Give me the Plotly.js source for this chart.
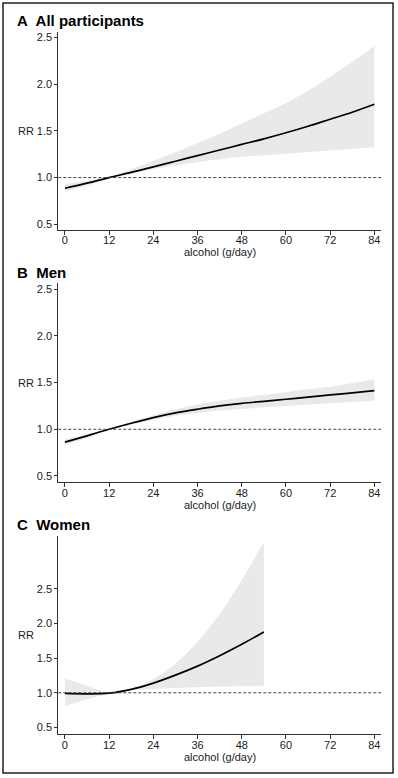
<!DOCTYPE html>
<html>
<head>
<meta charset="utf-8">
<script src="https://cdn.plot.ly/plotly-3.0.1.min.js"></script>
<style>
  html, body { margin: 0; padding: 0; background: #fff; }
  #chart { width: 398px; height: 778px; }
</style>
</head>
<body>
<div id="chart"></div>
<script>
// ---------- Data ----------
const xTicks = [0, 12, 24, 36, 48, 60, 72, 84];
const xFull = [0, 6, 12, 18, 24, 30, 36, 42, 48, 54, 60, 66, 72, 78, 84];
const xWomen = [0, 6, 12, 18, 24, 30, 36, 42, 48, 54];

// A: All participants
const allRR    = [0.885, 0.94, 1.0, 1.055, 1.115, 1.175, 1.235, 1.295, 1.355, 1.415, 1.48, 1.55, 1.625, 1.70, 1.785];
const allUpper = [0.93, 0.965, 1.01, 1.09, 1.18, 1.27, 1.37, 1.47, 1.58, 1.69, 1.80, 1.93, 2.08, 2.24, 2.41];
const allLower = [0.845, 0.915, 0.99, 1.04, 1.09, 1.13, 1.165, 1.195, 1.22, 1.24, 1.255, 1.275, 1.29, 1.31, 1.326];

// B: Men
const menRR    = [0.862, 0.93, 1.0, 1.065, 1.125, 1.175, 1.215, 1.25, 1.278, 1.30, 1.322, 1.345, 1.368, 1.39, 1.415];
const menUpper = [0.895, 0.945, 1.005, 1.08, 1.15, 1.215, 1.265, 1.305, 1.34, 1.37, 1.40, 1.428, 1.455, 1.495, 1.535];
const menLower = [0.83, 0.91, 0.995, 1.05, 1.10, 1.145, 1.175, 1.20, 1.218, 1.235, 1.25, 1.265, 1.28, 1.294, 1.307];

// C: Women
const womenRR    = [0.99, 0.985, 0.995, 1.05, 1.14, 1.255, 1.385, 1.535, 1.70, 1.88];
const womenUpper = [1.21, 1.10, 1.005, 1.06, 1.20, 1.42, 1.74, 2.14, 2.63, 3.18];
const womenLower = [0.81, 0.905, 0.985, 1.035, 1.055, 1.07, 1.08, 1.09, 1.095, 1.10];

const yTicks = [0.5, 1.0, 1.5, 2.0, 2.5];
const yTickText = ['0.5', '1.0', '1.5', '2.0', '2.5'];
const reference = 1.0;

const panelTitles = ['A\u00a0 All participants', 'B\u00a0 Men', 'C\u00a0 Women'];
const xTitle = 'alcohol (g/day)';
const yTitle = 'RR';

// ---------- Layout helpers ----------
const W = 398, H = 778;
const px = v => v / W;
const py = v => 1 - v / H;

const FONT = 'Liberation Sans, Arial, Helvetica, sans-serif';
const TXT = '#1a1a1a';
const AX = '#333333';
const BAND = 'rgb(233,233,233)';

const xDom = [px(58.3), px(381)];
const panels = [
  { top: 32,    bottom: 229.8, yr: [0.44, 2.56],  x: xFull,  rr: allRR,   up: allUpper,   lo: allLower,   titleY: 20 },
  { top: 283.3, bottom: 482.3, yr: [0.432, 2.564], x: xFull, rr: menRR,   up: menUpper,   lo: menLower,   titleY: 272.3 },
  { top: 535.7, bottom: 734.3, yr: [0.40, 3.27],  x: xWomen, rr: womenRR, up: womenUpper, lo: womenLower, titleY: 524.5 }
];

const traces = [];
const layout = {
  width: W, height: H,
  margin: { l: 0, r: 0, t: 0, b: 0, pad: 0 },
  paper_bgcolor: '#ffffff',
  plot_bgcolor: '#ffffff',
  showlegend: false,
  font: { family: FONT, size: 11, color: TXT },
  shapes: [],
  annotations: []
};

panels.forEach((p, i) => {
  const n = i === 0 ? '' : String(i + 1);
  const xa = 'x' + n, ya = 'y' + n;
  traces.push({
    x: p.x, y: p.up, xaxis: xa, yaxis: ya, type: 'scatter', mode: 'lines',
    line: { width: 0, shape: 'spline', smoothing: 1, color: BAND }, hoverinfo: 'skip'
  });
  traces.push({
    x: p.x, y: p.lo, xaxis: xa, yaxis: ya, type: 'scatter', mode: 'lines',
    fill: 'tonexty', fillcolor: BAND,
    line: { width: 0, shape: 'spline', smoothing: 1, color: BAND }, hoverinfo: 'skip'
  });
  traces.push({
    x: p.x, y: p.rr, xaxis: xa, yaxis: ya, type: 'scatter', mode: 'lines',
    line: { width: 1.7, shape: 'spline', smoothing: 1, color: '#000000' }
  });

  layout['xaxis' + n] = {
    domain: xDom, anchor: ya, range: [-1.8, 85.8],
    tickmode: 'array', tickvals: xTicks, ticktext: xTicks.map(String),
    ticks: 'outside', ticklen: 4, tickwidth: 1, tickcolor: AX,
    ticklabelstandoff: -4,
    showline: true, linecolor: AX, linewidth: 1, mirror: false,
    showgrid: false, zeroline: false,
    tickfont: { family: FONT, size: 11, color: TXT }
  };
  layout['yaxis' + n] = {
    domain: [py(p.bottom), py(p.top)], anchor: xa, range: p.yr,
    tickmode: 'array', tickvals: yTicks, ticktext: yTickText,
    ticks: 'outside', ticklen: 3, tickwidth: 1, tickcolor: AX,
    showline: true, linecolor: AX, linewidth: 1, mirror: false,
    showgrid: false, zeroline: false,
    tickfont: { family: FONT, size: 11, color: TXT }
  };

  layout.shapes.push({
    type: 'line', xref: xa + ' domain', yref: ya,
    x0: 0, x1: 1, y0: reference, y1: reference,
    line: { color: '#444444', width: 1, dash: '3px,2px' }, layer: 'above'
  });

  layout.annotations.push({
    text: '<b>' + panelTitles[i] + '</b>', xref: 'paper', yref: 'paper',
    x: px(14.5), y: py(p.titleY), xanchor: 'left', yanchor: 'middle',
    showarrow: false, font: { family: FONT, size: 15, color: '#000000' }
  });
  layout.annotations.push({
    text: yTitle, xref: 'paper', yref: 'paper',
    x: px(16.3), y: py((p.top + p.bottom) / 2), xanchor: 'left', yanchor: 'middle',
    showarrow: false, font: { family: FONT, size: 11, color: TXT }
  });
  layout.annotations.push({
    text: xTitle, xref: 'paper', yref: 'paper',
    x: (xDom[0] + xDom[1]) / 2, y: py(p.bottom + 22.5), xanchor: 'center', yanchor: 'middle',
    showarrow: false, font: { family: FONT, size: 11, color: TXT }
  });
});

// outer frame
layout.shapes.push({
  type: 'rect', xref: 'paper', yref: 'paper',
  x0: px(3), x1: px(393), y0: py(773), y1: py(3),
  line: { color: '#222222', width: 1.5 }, fillcolor: 'rgba(0,0,0,0)', layer: 'above'
});

Plotly.newPlot('chart', traces, layout, { staticPlot: true, displayModeBar: false });
</script>
</body>
</html>
